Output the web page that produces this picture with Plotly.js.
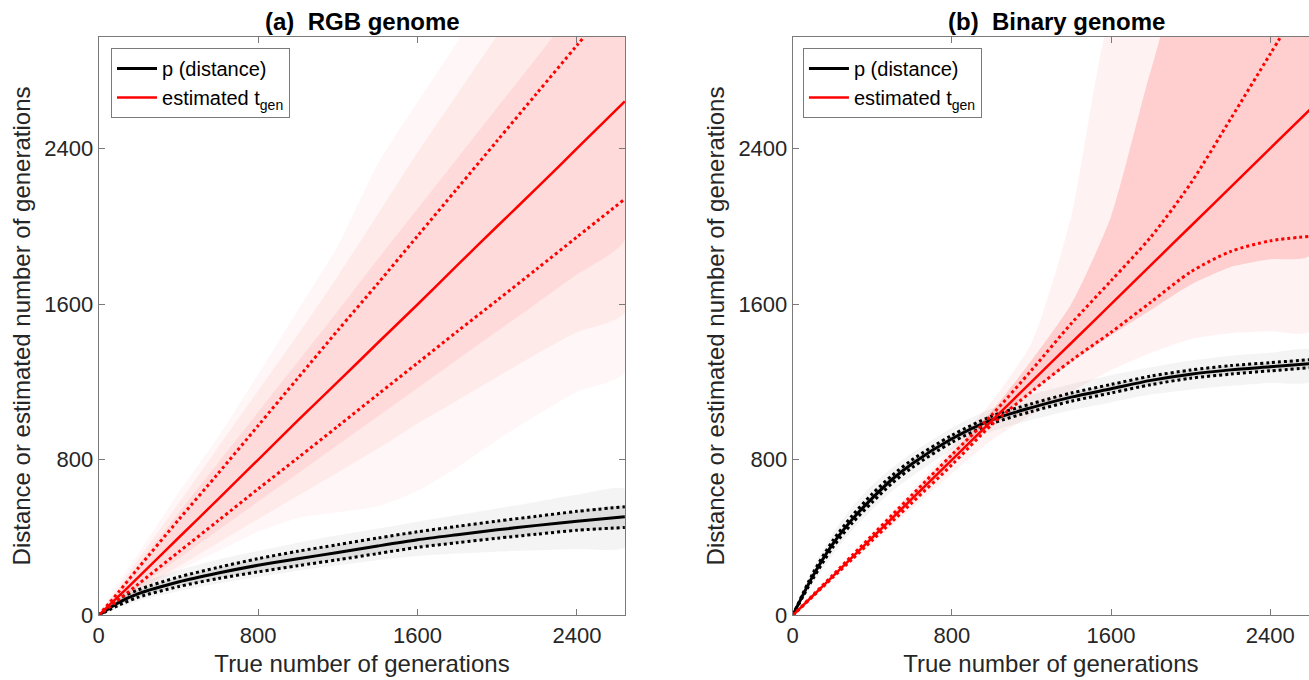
<!DOCTYPE html>
<html>
<head>
<meta charset="utf-8">
<script src="https://cdn.plot.ly/plotly-3.0.1.min.js"></script>
<style>html,body{margin:0;padding:0;background:#fff;}#chart{width:1309px;height:680px;}</style>
</head>
<body>
<div id="chart"></div>
<script>
// ---------- (a) RGB genome ----------
const rgbT        = [0, 100, 200, 400, 600, 800, 1000, 1200, 1400, 1600, 1800, 2000, 2200, 2400, 2640];
const rgbDist     = [0, 66, 112, 172, 218, 258, 292, 323, 357, 389, 415, 440, 463, 484, 507];
const rgbDistHi   = [0, 85, 132, 197, 247, 292, 330, 364, 398, 430, 458, 485, 510, 535, 559];
const rgbDistLo   = [0, 52, 94, 148, 190, 224, 256, 286, 318, 350, 374, 397, 418, 438, 452];
const rgbGreyHi   = [0, 110, 162, 232, 287, 332, 374, 412, 447, 482, 516, 550, 585, 620, 650];
const rgbGreyLo   = [0, 38, 74, 124, 164, 198, 230, 258, 284, 305, 318, 328, 335, 342, 350];
const rgbEst      = [0, 98, 197, 398, 598, 800, 1002, 1200, 1400, 1598, 1800, 2000, 2198, 2400, 2642];
const rgbEstHi    = [0, 120, 245, 490, 730, 975, 1220, 1465, 1705, 1950, 2195, 2440, 2685, 2930, 3220];
const rgbEstLo    = [0, 80, 162, 325, 487, 650, 810, 972, 1135, 1297, 1460, 1620, 1782, 1945, 2140];
const rgbHazeHi   = [0, 170, 320, 630, 920, 1240, 1570, 1900, 2320, 2640, 2950, 3300, 3500, 3700, 3900];
const rgbHazeLo   = [0, 55, 115, 230, 330, 430, 500, 530, 560, 640, 760, 900, 1030, 1150, 1250];
const rgbMidHi    = [0, 145, 290, 575, 865, 1155, 1445, 1745, 2060, 2380, 2680, 2980, 3250, 3500, 3800];
const rgbMidLo    = [0, 62, 125, 250, 372, 495, 615, 735, 855, 985, 1105, 1225, 1345, 1455, 1555];
const rgbCoreHi   = [0, 130, 262, 525, 785, 1045, 1305, 1565, 1830, 2090, 2350, 2610, 2870, 3130, 3440];
const rgbCoreLo   = [0, 73, 146, 292, 438, 585, 730, 876, 1022, 1168, 1314, 1460, 1606, 1752, 1930];

// ---------- (b) Binary genome ----------
const binT        = [0, 100, 200, 300, 400, 500, 600, 800, 1000, 1200, 1400, 1600, 1800, 2000, 2200, 2400, 2600];
const binDist     = [0, 200, 365, 495, 603, 700, 780, 908, 1005, 1068, 1122, 1165, 1208, 1240, 1262, 1278, 1294];
const binDistHi   = [0, 214, 382, 514, 625, 720, 800, 926, 1024, 1088, 1143, 1187, 1230, 1261, 1284, 1299, 1315];
const binDistLo   = [0, 186, 348, 476, 582, 680, 760, 890, 986, 1048, 1101, 1143, 1186, 1219, 1240, 1257, 1273];
const binGreyHi   = [0, 240, 420, 560, 670, 760, 835, 965, 1065, 1135, 1190, 1235, 1275, 1310, 1335, 1350, 1365];
const binGreyLo   = [0, 160, 310, 440, 545, 640, 715, 850, 945, 1005, 1055, 1095, 1135, 1160, 1180, 1195, 1200];
const binEst      = [0, 100, 200, 300, 400, 500, 600, 800, 1000, 1200, 1400, 1600, 1800, 2000, 2200, 2400, 2600];
const binEstHi    = [0, 103, 206, 310, 413, 517, 620, 826, 1030, 1260, 1500, 1720, 1945, 2220, 2550, 2885, 3220];
const binEstLo    = [0, 97, 194, 290, 387, 483, 580, 774, 980, 1150, 1310, 1455, 1610, 1765, 1870, 1925, 1948];
const binHazeHi   = [0, 106, 213, 320, 427, 535, 645, 865, 1100, 1400, 2050, 3100, 3400, 3400, 3400, 3400, 3400];
const binHazeLo   = [0, 92, 185, 278, 370, 460, 550, 730, 900, 1030, 1150, 1260, 1350, 1420, 1450, 1460, 1460];
const binCoreHi   = [0, 103, 207, 311, 415, 520, 625, 835, 1050, 1310, 1600, 2050, 2800, 3400, 3400, 3400, 3400];
const binCoreLo   = [0, 97, 194, 291, 388, 485, 582, 776, 980, 1150, 1300, 1440, 1570, 1700, 1790, 1830, 1850];

// ---------- text ----------
const titles      = ['<b>(a)  RGB genome</b>', '<b>(b)  Binary genome</b>'];
const xTitle      = 'True number of generations';
const yTitle      = 'Distance or estimated number of generations';
const legendNames = ['p (distance)', 'estimated t<sub>gen</sub>'];
const tickVals    = [0, 800, 1600, 2400];

const FONT = '"Liberation Sans", Arial, Helvetica, sans-serif';

function band(t, hi, lo, color, xa, ya) {
  return {
    x: t.concat(t.slice().reverse()),
    y: hi.concat(lo.slice().reverse()),
    xaxis: xa, yaxis: ya,
    type: 'scatter', mode: 'lines', fill: 'toself',
    fillcolor: color, line: {width: 0, color: 'rgba(0,0,0,0)', shape: 'spline', smoothing: 0.6},
    hoverinfo: 'skip', showlegend: false
  };
}
function line(t, y, color, width, dash, xa, ya, name, legend) {
  return {
    x: t, y: y, xaxis: xa, yaxis: ya, type: 'scatter', mode: 'lines',
    line: {color: color, width: width, dash: dash, shape: 'spline', smoothing: 0.8},
    name: name || '', showlegend: !!name, legend: legend || 'legend',
    hoverinfo: 'skip'
  };
}

const data = [
  // left hazes
  band(rgbT, rgbHazeHi, rgbHazeLo, 'rgba(255,0,0,0.03)', 'x', 'y'),
  band(rgbT, rgbMidHi, rgbMidLo, 'rgba(255,0,0,0.05)', 'x', 'y'),
  band(rgbT, rgbCoreHi, rgbCoreLo, 'rgba(255,0,0,0.065)', 'x', 'y'),
  band(rgbT, rgbGreyHi, rgbGreyLo, 'rgba(0,0,0,0.045)', 'x', 'y'),
  band(rgbT, rgbDistHi, rgbDistLo, 'rgba(0,0,0,0.09)', 'x', 'y'),
  // left lines
  line(rgbT, rgbDistHi, '#000', 3, 'dot', 'x', 'y'),
  line(rgbT, rgbDistLo, '#000', 3, 'dot', 'x', 'y'),
  line(rgbT, rgbDist, '#000', 3, 'solid', 'x', 'y', legendNames[0], 'legend'),
  line(rgbT, rgbEstHi, '#ff0000', 3, 'dot', 'x', 'y'),
  line(rgbT, rgbEstLo, '#ff0000', 3, 'dot', 'x', 'y'),
  line(rgbT, rgbEst, '#ff0000', 2.5, 'solid', 'x', 'y', legendNames[1], 'legend'),
  // right hazes
  band(binT, binHazeHi, binHazeLo, 'rgba(255,0,0,0.05)', 'x2', 'y2'),
  band(binT, binCoreHi, binCoreLo, 'rgba(255,0,0,0.15)', 'x2', 'y2'),
  band(binT, binGreyHi, binGreyLo, 'rgba(0,0,0,0.045)', 'x2', 'y2'),
  band(binT, binDistHi, binDistLo, 'rgba(0,0,0,0.09)', 'x2', 'y2'),
  // right lines
  line(binT, binDistHi, '#000', 3, 'dot', 'x2', 'y2'),
  line(binT, binDistLo, '#000', 3, 'dot', 'x2', 'y2'),
  line(binT, binDist, '#000', 3, 'solid', 'x2', 'y2', legendNames[0], 'legend2'),
  line(binT, binEstHi, '#ff0000', 3, 'dot', 'x2', 'y2'),
  line(binT, binEstLo, '#ff0000', 3, 'dot', 'x2', 'y2'),
  line(binT, binEst, '#ff0000', 2.5, 'solid', 'x2', 'y2', legendNames[1], 'legend2')
];

const axisCommon = {
  tickvals: tickVals, ticktext: tickVals.map(String),
  ticks: 'inside', ticklen: 6, tickwidth: 1, tickcolor: '#7a7a7a',
  showline: true, linecolor: '#7a7a7a', linewidth: 1,
  showgrid: false, zeroline: false,
  tickfont: {family: FONT, size: 22, color: '#262626'},
  fixedrange: true
};
const xTitleObj = {text: xTitle, font: {family: FONT, size: 24, color: '#262626'}, standoff: 8};
const yTitleObj = {text: yTitle, font: {family: FONT, size: 24, color: '#262626'}, standoff: 6};

const legendCommon = {
  xanchor: 'left', yanchor: 'top', bgcolor: '#ffffff',
  bordercolor: '#7a7a7a', borderwidth: 1,
  font: {family: FONT, size: 20, color: '#000'},
  tracegroupgap: 0, itemwidth: 40
};

const layout = {
  width: 1309, height: 680,
  margin: {l: 0, r: 0, t: 0, b: 0},
  paper_bgcolor: '#fff', plot_bgcolor: '#fff',
  showlegend: true,
  xaxis: Object.assign({}, axisCommon, {domain: [0.0753, 0.4778], range: [0, 2643], anchor: 'y', mirror: 'ticks', title: xTitleObj}),
  yaxis: Object.assign({}, axisCommon, {domain: [0.0949, 0.9463], range: [0, 2975], anchor: 'x', mirror: 'ticks', title: yTitleObj}),
  xaxis2: Object.assign({}, axisCommon, {domain: [0.6056, 1.0], range: [0, 2595], anchor: 'y2', mirror: 'ticks', title: xTitleObj}),
  yaxis2: Object.assign({}, axisCommon, {domain: [0.0949, 0.9463], range: [0, 2975], anchor: 'x2', mirror: false, title: yTitleObj}),
  legend: Object.assign({}, legendCommon, {x: 0.0848, y: 0.9294}),
  legend2: Object.assign({}, legendCommon, {x: 0.6134, y: 0.9294}),
  annotations: [
    {text: titles[0], xref: 'paper', yref: 'paper', x: 362 / 1309, y: (680 - 22) / 680,
     xanchor: 'center', yanchor: 'middle', showarrow: false, font: {family: FONT, size: 24, color: '#000'}},
    {text: titles[1], xref: 'paper', yref: 'paper', x: 1056 / 1309, y: (680 - 22) / 680,
     xanchor: 'center', yanchor: 'middle', showarrow: false, font: {family: FONT, size: 24, color: '#000'}}
  ]
};

Plotly.newPlot('chart', data, layout, {displayModeBar: false, staticPlot: true});
</script>
</body>
</html>
